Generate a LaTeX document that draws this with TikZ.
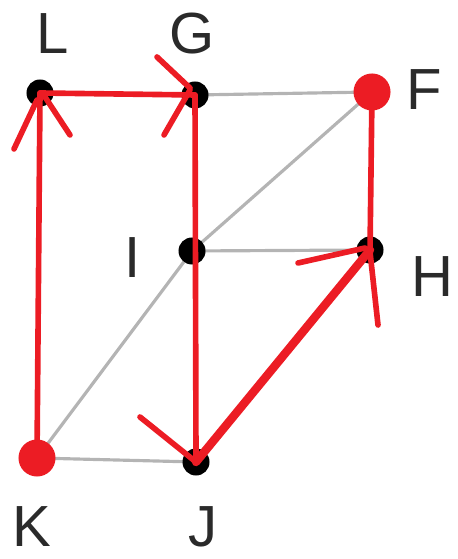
\documentclass[tikz,border=0pt]{standalone}
\usepackage{fontspec}
\setmainfont{Liberation Sans}
\usetikzlibrary{calc}
\definecolor{penred}{HTML}{EC1C24}
\definecolor{edgegrey}{HTML}{B4B4B4}
\definecolor{labelgrey}{HTML}{2A2A2A}
\begin{document}
\begin{tikzpicture}[x=0.01cm,y=-0.01cm,
  blackdot/.style={circle,fill=black,inner sep=0pt,minimum size=0.27cm},
  reddot/.style={circle,fill=penred,inner sep=0pt,minimum size=0.37cm},
  lbl/.style={text=labelgrey,font=\fontsize{16.5}{18}\selectfont,inner sep=0pt},
  greyedge/.style={draw=edgegrey,line width=0.9pt},
  redpen/.style={draw=penred,line width=1.6pt,line cap=round},
  redthick/.style={draw=penred,line width=2.4pt,line cap=round}]
\useasboundingbox (0,0) rectangle (457,559);
% vertex positions
\coordinate (L) at (40,93);
\coordinate (G) at (195,95);
\coordinate (F) at (372,92);
\coordinate (I) at (192,251);
\coordinate (H) at (370,250);
\coordinate (K) at (37,458);
\coordinate (J) at (196,462);
% grey edges
\draw[greyedge] (L) -- (G);
\draw[greyedge] (G) -- (F);
\draw[greyedge] (K) -- (I) -- (F);
\draw[greyedge] (I) -- (H);
\draw[greyedge] (K) -- (J);
\draw[greyedge] (J) -- (H);
% black dots
\node[blackdot] (nL) at (L) {};
\node[blackdot] (nG) at (G) {};
\node[blackdot] (nI) at (I) {};
\node[blackdot] (nH) at (H) {};
\node[blackdot] (nJ) at (J) {};
% red path
\draw[redpen] (K) -- (L);
\draw[redpen] ($(L)+(-26,56)$) -- ($(L)+(-3,7)$);
\draw[redpen] ($(L)+(30,42)$) -- ($(L)+(5,4)$);
\draw[redpen] (L) -- (G);
\draw[redpen] ($(G)+(-38,-38)$) -- ($(G)+(-5,-7)$);
\draw[redpen] ($(G)+(-31,40)$) -- ($(G)+(-5,-5)$);
\draw[redpen] (G) -- (J);
\draw[redpen] ($(J)+(-56,-45)$) -- (J);
\draw[redthick] (J) -- (H);
\draw[redpen] ($(H)+(-72,13)$) -- ($(H)+(-5,-2)$);
\draw[redpen] ($(H)+(8,75)$) -- ($(H)+(0,2)$);
\draw[redpen] (H) -- (F);
% red dots
\node[reddot] (nK) at (K) {};
\node[reddot] (nF) at (F) {};
% labels
\node[lbl] (tL) at (53,34) {L};
\node[lbl] (tG) at (192,34) {G};
\node[lbl] (tF) at (424,90) {F};
\node[lbl] (tI) at (133,258) {I};
\node[lbl] (tH) at (432,277) {H};
\node[lbl] (tK) at (32,527) {K};
\node[lbl] (tJ) at (203,527) {J};
\end{tikzpicture}
\end{document}
